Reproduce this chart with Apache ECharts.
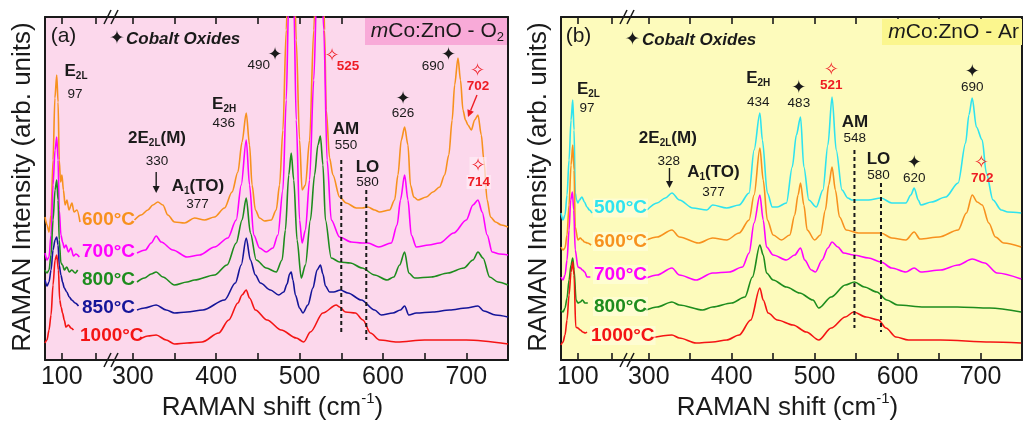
<!DOCTYPE html>
<html>
<head>
<meta charset="utf-8">
<title>Raman spectra of mCo:ZnO</title>
<script src="https://cdn.jsdelivr.net/npm/echarts@6.0.0/dist/echarts.min.js"></script>
<style>
html,body{margin:0;padding:0;background:#fff;}
#chart{width:1024px;height:426px;}
</style>
</head>
<body>
<div id="chart"></div>
<script>
// Raman shift (cm-1) vs intensity (arb. units); traces are vertically offset per annealing temperature.
// Each panel has a short low-shift segment (E2L mode) and a main segment, separated by an axis break.

// ---- axes ----
const lowRange = [90, 130];
const mainRange = [275, 750];
const lowTicks = [100, 120];
const lowLabels = [100];
const mainTicks = [300, 350, 400, 450, 500, 550, 600, 650, 700, 750];
const mainLabels = [300, 400, 500, 600, 700];
const yRange = [0, 343];

// ---- (a) mCo:ZnO annealed in O2 ----
const o2Temps = ['600°C', '700°C', '800°C', '850°C', '1000°C'];

const o2_600_lo = [[90,143],[91.2,135],[92.4,128],[93.6,145],[94.8,200],[95.9,262],[97,285],[97.8,258],[98.5,200],[99.3,178],[100.1,185],[101,170],[102,155],[103.1,160],[104.3,150],[106.1,157],[107.3,148],[109.1,150],[110.9,138]];
const o2_600_hi = [[302,140],[310,145],[318,150],[324,155],[330,158],[336,155],[342,145],[350,138],[362,137],[374,142],[386,140],[398,143],[410,152],[419,168],[426,188],[431,218],[436,247],[440,215],[443,175],[447,150],[452,142],[458,139],[466,140],[472,150],[476,175],[480,230],[484,330],[487,420],[490,470],[493,420],[496,320],[500,220],[503,170],[507,175],[512,220],[517,330],[521,430],[525,480],[528,420],[530,330],[532,250],[536,202],[540,185],[548,163],[556,157],[568,152],[575,152],[582,153],[590,150],[596,148],[608,150],[614,160],[618,185],[622,220],[626,233],[630,215],[633,175],[637,163],[642,160],[652,163],[660,168],[668,173],[674,185],[679,205],[683,240],[686,275],[690,302],[693,280],[696,250],[699,240],[702,235],[706,230],[710,240],[714,245],[718,225],[721,200],[725,160],[729,143],[735,138],[742,135],[750,133]];

const o2_700_lo = [[90,107],[91.2,100],[92.4,103],[93.6,125],[94.8,175],[96,210],[97,223],[97.8,200],[98.5,150],[99.5,125],[100.5,118],[101.5,112],[102.5,115],[104,108],[105.5,112],[107,104],[108.5,106],[110.5,103]];
const o2_700_hi = [[305,107],[315,110],[322,117],[328,124],[334,118],[348,110],[365,103],[380,105],[398,113],[414,122],[424,140],[430,175],[436,220],[440,175],[445,125],[452,112],[460,108],[468,112],[474,125],[480,170],[484,260],[487,360],[490,420],[493,360],[496,240],[500,140],[503,117],[507,130],[512,180],[517,280],[521,380],[525,420],[529,330],[533,200],[538,140],[548,123],[562,118],[575,117],[582,117],[595,113],[610,117],[617,135],[621,160],[626,185],[630,160],[634,125],[640,113],[655,115],[668,117],[685,127],[700,140],[708,155],[714,160],[719,148],[725,125],[731,108],[740,106],[750,105]];

const o2_800_lo = [[90,90],[91.2,87],[92.4,90],[93.6,105],[94.8,140],[96,170],[97,180],[97.8,160],[98.5,120],[99.5,97],[100.5,95],[101.5,90],[103,93],[104.5,88],[106,90],[108,87],[109.5,90]];
const o2_800_hi = [[305,78],[314,82],[322,86],[328,88],[336,83],[350,75],[365,78],[374,80],[398,85],[413,95],[424,117],[431,140],[436,162],[441,127],[448,100],[460,92],[472,88],[479,100],[483,130],[487,185],[490,207],[493,180],[497,120],[502,82],[507,95],[513,140],[518,185],[522,215],[525,224],[528,195],[531,140],[538,102],[548,98],[561,97],[575,92],[590,85],[605,80],[613,83],[620,95],[626,108],[631,87],[638,82],[658,83],[678,87],[697,92],[708,100],[714,108],[720,102],[728,83],[738,78],[750,75]];

const o2_850_lo = [[90,80],[91.2,74],[92.4,78],[93.6,90],[94.8,110],[96,120],[97,123],[97.8,115],[98.5,95],[99.5,85],[100.5,78],[101.5,72],[103,68],[104.5,63],[106,60],[108,57],[110,54]];
const o2_850_hi = [[305,50],[314,52],[328,55],[340,50],[350,47],[365,48],[384,50],[410,60],[423,77],[430,95],[436,122],[441,100],[447,85],[453,77],[465,70],[475,65],[481,68],[485,76],[488,86],[490,88],[492,80],[495,65],[500,52],[504,47],[510,55],[516,72],[521,90],[525,95],[528,86],[531,74],[536,68],[541,68],[549,70],[558,67],[574,60],[590,50],[598,45],[612,47],[621,50],[626,54],[631,45],[640,47],[660,48],[680,50],[700,52],[714,54],[721,49],[735,45],[750,43]];

const o2_1000_lo = [[90,17],[91.2,20],[92.4,30],[93.6,45],[94.8,75],[96,100],[97,105],[98,90],[98.8,60],[99.6,53],[100.5,47],[101.5,40],[102.5,33],[104,35],[105.5,32],[107,30]];
const o2_1000_hi = [[311,22],[318,24],[328,25],[340,20],[350,16],[365,17],[383,18],[403,27],[415,40],[426,57],[431,65],[436,70],[440,62],[447,50],[461,40],[478,30],[496,22],[505,18],[513,28],[528,47],[544,55],[548,53],[555,48],[567,47],[576,40],[585,27],[596,20],[617,18],[650,20],[700,20],[750,16]];

// ---- (b) mCo:ZnO annealed in Ar ----
const arTemps = ['500°C', '600°C', '700°C', '800°C', '1000°C'];

const ar_500_lo = [[90,147],[91.2,140],[92.4,145],[93.6,165],[94.8,200],[96,240],[97,260],[97.8,230],[98.5,167],[99.3,160],[100.1,157],[101,160],[102.5,163],[104,158],[105.5,153],[107,150],[108.5,147]];
const ar_500_hi = [[298,150],[310,157],[320,162],[328,167],[337,160],[353,152],[370,150],[377,155],[394,152],[409,155],[421,167],[427,210],[434,247],[437,220],[443,167],[449,153],[455,153],[466,157],[473,193],[478,225],[483,243],[487,193],[493,160],[502,153],[510,170],[516,215],[521,263],[526,210],[533,170],[540,162],[545,160],[565,160],[580,162],[593,157],[610,157],[616,165],[620,172],[625,160],[628,155],[641,158],[658,163],[673,177],[682,217],[686,245],[690,262],[695,233],[702,220],[707,187],[715,160],[725,150],[733,148],[749,147]];

const ar_600_lo = [[90,113],[91.2,110],[92.4,112],[93.6,125],[94.8,155],[96,195],[97,215],[97.8,190],[98.5,133],[100.1,120],[101.5,122],[102.8,120],[104,118],[105.8,117],[108,115]];
const ar_600_hi = [[297,120],[310,123],[328,130],[337,123],[360,117],[377,122],[394,120],[409,127],[421,140],[427,165],[434,212],[438,180],[443,140],[450,125],[460,120],[470,125],[476,145],[480,165],[483,177],[487,155],[491,130],[500,120],[507,125],[513,150],[517,175],[521,193],[525,170],[530,143],[538,130],[553,127],[580,127],[593,122],[610,120],[620,128],[627,121],[650,123],[673,130],[683,147],[690,165],[696,158],[702,155],[710,137],[718,123],[728,117],[749,113]];

const ar_700_lo = [[90,83],[91.2,80],[92.4,85],[93.6,100],[94.8,130],[95.8,160],[96.8,168],[97.6,150],[98.5,110],[100.1,93],[101.5,92],[102.8,90],[104.2,88],[105.5,83],[107.5,83]];
const ar_700_hi = [[297,82],[310,85],[328,92],[337,85],[357,80],[377,87],[397,88],[413,93],[421,107],[427,137],[434,165],[438,140],[442,113],[450,105],[466,100],[476,105],[483,112],[488,100],[496,90],[501,88],[509,100],[516,112],[521,118],[528,113],[535,107],[547,105],[565,102],[580,98],[593,92],[610,88],[620,92],[628,88],[652,90],[673,95],[690,101],[705,97],[720,87],[749,81]];

const ar_800_lo = [[90,50],[91.2,48],[92.4,52],[93.6,62],[94.8,80],[96,95],[97,102],[97.8,90],[99,60],[100.1,57],[101.5,58],[102.8,60],[104.3,57],[106,57]];
const ar_800_hi = [[297,50],[310,53],[328,58],[337,55],[365,50],[377,53],[400,57],[416,63],[425,83],[434,115],[438,105],[442,87],[450,80],[466,73],[482,67],[498,60],[505,52],[520,63],[537,75],[548,78],[560,73],[575,68],[587,60],[600,55],[632,53],[672,53],[711,52],[749,48]];

const ar_1000_lo = [[90,15],[91.2,18],[92.4,25],[93.6,40],[94.8,65],[96,88],[97,98],[97.8,85],[98.8,33],[100.1,32],[101.5,30],[103,28],[104.5,27],[105.5,28]];
const ar_1000_hi = [[302,22],[328,25],[337,22],[357,17],[377,18],[394,20],[409,25],[423,40],[434,72],[438,60],[444,47],[455,40],[474,35],[490,28],[505,20],[520,32],[537,43],[547,48],[562,43],[577,40],[586,32],[598,23],[613,20],[652,20],[712,18],[749,17]];

// ---- styling ----
const FONT = "'Liberation Sans', Arial, Helvetica, sans-serif";
const SYM = "'DejaVu Sans', sans-serif";
const INK = '#1a1a1a';
const RED_TXT = '#ee1c24';
const COL = {orange:'#f7911e', magenta:'#ff00ff', green:'#1d8c1d', navy:'#151599', red:'#f41414', cyan:'#2fe3ef'};

const PANELS = [
  {x0:45, xs:112, x1:508, bg:'#fcd8ec', boxBg:'#f8aad8',
   traces:[
     {lo:o2_600_lo, hi:o2_600_hi, color:COL.orange},
     {lo:o2_700_lo, hi:o2_700_hi, color:COL.magenta},
     {lo:o2_800_lo, hi:o2_800_hi, color:COL.green},
     {lo:o2_850_lo, hi:o2_850_hi, color:COL.navy},
     {lo:o2_1000_lo, hi:o2_1000_hi, color:COL.red}],
   temps:o2Temps, tempX:[82,82,82,82,80], tempY:[220,252,280,307.5,335.5]},
  {x0:561, xs:628, x1:1022, bg:'#fdfbbc', boxBg:'#fbf68e',
   traces:[
     {lo:ar_500_lo, hi:ar_500_hi, color:COL.cyan},
     {lo:ar_600_lo, hi:ar_600_hi, color:COL.orange},
     {lo:ar_700_lo, hi:ar_700_hi, color:COL.magenta},
     {lo:ar_800_lo, hi:ar_800_hi, color:COL.green},
     {lo:ar_1000_lo, hi:ar_1000_hi, color:COL.red}],
   temps:arTemps, tempX:[593,593,593,593,590], tempY:[208,241.5,274.5,306.5,335.5]}
];
const TOP = 17, BOT = 360;

// ---- build option ----
const grids = [], xAxes = [], yAxes = [], series = [];

function xAxis(gi, range, ticks, labels, pos) {
  return {
    type:'value', gridIndex:gi, position:pos, min:range[0], max:range[1],
    axisLine:{show:true, onZero:false, lineStyle:{color:INK, width:2}},
    axisTick:{show:true, inside:true, length:7, customValues:ticks, lineStyle:{color:INK, width:1.6}},
    axisLabel:{show:pos === 'bottom', customValues:labels, margin:5, color:INK, fontSize:25, fontFamily:FONT},
    splitLine:{show:false}, minorTick:{show:false}, splitArea:{show:false}
  };
}
function yAxis(gi, pos) {
  return {
    type:'value', gridIndex:gi, position:pos, min:yRange[0], max:yRange[1],
    axisLine:{show:true, onZero:false, lineStyle:{color:INK, width:2}},
    axisTick:{show:false}, axisLabel:{show:false}, splitLine:{show:false}
  };
}
function trace(data, color, xi, yi) {
  return {
    type:'line', data, xAxisIndex:xi, yAxisIndex:yi, showSymbol:false, symbol:'none',
    smooth:0.3, smoothMonotone:'x', clip:true, silent:true, z:3,
    lineStyle:{color, width:1.6}, itemStyle:{color}, emphasis:{disabled:true}
  };
}

PANELS.forEach((p, pi) => {
  const gLo = pi * 2, gHi = pi * 2 + 1;
  const common = {top:TOP, height:BOT - TOP, show:true, backgroundColor:p.bg, borderWidth:0, containLabel:false, outerBoundsMode:'none'};
  grids.push(Object.assign({left:p.x0, width:p.xs - p.x0}, common));
  grids.push(Object.assign({left:p.xs, width:p.x1 - p.xs}, common));
  xAxes.push(xAxis(gLo, lowRange, lowTicks, lowLabels, 'bottom'));
  xAxes.push(xAxis(gLo, lowRange, lowTicks, lowLabels, 'top'));
  xAxes.push(xAxis(gHi, mainRange, mainTicks, mainLabels, 'bottom'));
  xAxes.push(xAxis(gHi, mainRange, mainTicks, mainLabels, 'top'));
  yAxes.push(yAxis(gLo, 'left'));
  yAxes.push(yAxis(gHi, 'right'));
  p.traces.forEach(t => {
    series.push(trace(t.lo, t.color, pi * 4, gLo));
    series.push(trace(t.hi, t.color, pi * 4 + 2, gHi));
  });
});

const chart = echarts.init(document.getElementById('chart'), null, {renderer:'canvas'});
chart.setOption({
  animation:false, backgroundColor:'#ffffff',
  grid:grids, xAxis:xAxes, yAxis:yAxes, series
});

// ---- annotations ----
const ctx2d = document.createElement('canvas').getContext('2d');
function measure(t, size, weight, style, fam) {
  ctx2d.font = `${style || 'normal'} ${weight || 'normal'} ${size}px ${fam || FONT}`;
  return ctx2d.measureText(t).width;
}
function textEl(t, x, y, o) {
  o = o || {};
  const align = o.align || 'center', va = o.va || 'middle';
  const st = {text:t, fill:o.color || INK, fontSize:o.size || 14, fontWeight:o.weight || 'normal',
    fontStyle:o.style || 'normal', fontFamily:o.fam || FONT,
    align, verticalAlign:va, textAlign:align, textVerticalAlign:va};
  if (o.bg) { st.backgroundColor = o.bg; st.padding = o.pad || [1, 2]; }
  return {type:'text', z:20, x, y, rotation:o.rot || 0, silent:true, style:st};
}
function runs(list, x, y, align) {
  const w = list.map(r => measure(r.t, r.size, r.weight, r.style, r.fam));
  const total = w.reduce((a, b) => a + b, 0);
  let cx = align === 'left' ? x : align === 'right' ? x - total : x - total / 2;
  return list.map((r, i) => {
    const e = textEl(r.t, cx, y + (r.dy || 0), Object.assign({}, r, {align:'left'}));
    cx += w[i];
    return e;
  });
}

const G = [];
const toPx = (pi, x, y) => {
  const lo = x < 200;
  return chart.convertToPixel({xAxisIndex:pi * 4 + (lo ? 0 : 2), yAxisIndex:pi * 2 + (lo ? 0 : 1)}, [x, y]);
};
const label = (pi, t, x, y, o) => { const q = toPx(pi, x, y); G.push(textEl(t, q[0], q[1], o)); };
const richLabel = (pi, list, x, y) => { const q = toPx(pi, x, y); G.push(...runs(list, q[0], q[1], 'center')); };
const num = (pi, t, x, y, o) => label(pi, t, x, y, Object.assign({size:13.5}, o || {}));
const redNum = (pi, t, x, y, o) => label(pi, t, x, y, Object.assign({size:13.5, weight:'bold', color:RED_TXT}, o || {}));
const star = (pi, x, y) => label(pi, '\u2726', x, y, {size:18, fam:SYM});
const hollow = (pi, x, y, o) => label(pi, '\u2727', x, y, Object.assign({size:18, fam:SYM, color:RED_TXT}, o || {}));
const bold = (pi, t, x, y) => label(pi, t, x, y, {size:17, weight:'bold'});
const sub = (main, s) => [{t:main, size:17, weight:'bold'}, {t:s, size:10, weight:'bold', dy:5}];
function vdash(pi, x, y1, y2) {
  const a = toPx(pi, x, y1), b = toPx(pi, x, y2);
  G.push({type:'line', z:15, silent:true, shape:{x1:a[0], y1:a[1], x2:b[0], y2:b[1]}, style:{stroke:INK, lineWidth:2, lineDash:[4, 3]}});
}
function arrow(pi, x1, y1, x2, y2, color) {
  const a = toPx(pi, x1, y1), b = toPx(pi, x2, y2);
  const dx = b[0] - a[0], dy = b[1] - a[1], len = Math.hypot(dx, dy), ux = dx / len, uy = dy / len;
  const hl = 7, hw = 3.5, base = [b[0] - ux * hl, b[1] - uy * hl];
  G.push({type:'line', z:15, silent:true, shape:{x1:a[0], y1:a[1], x2:base[0], y2:base[1]}, style:{stroke:color, lineWidth:1.4}});
  G.push({type:'polygon', z:15, silent:true, shape:{points:[b, [base[0] - uy * hw, base[1] + ux * hw], [base[0] + uy * hw, base[1] - ux * hw]]}, style:{fill:color}});
}
function breakMark(bx, by) {
  [[-8, 7, -1, -7], [-1, 7, 6, -7]].forEach(s => G.push({type:'line', z:21, silent:true,
    shape:{x1:bx + s[0], y1:by + s[1], x2:bx + s[2], y2:by + s[3]}, style:{stroke:INK, lineWidth:1.5}}));
}

// shared frame furniture for both panels
PANELS.forEach((p, pi) => {
  breakMark(p.xs, BOT); breakMark(p.xs, TOP);
  const cx = (p.x0 + p.x1) / 2;
  G.push(...runs([{t:'RAMAN shift (cm', size:26}, {t:'-1', size:15, dy:-9}, {t:')', size:26}], cx - 4, 408, 'center'));
  G.push(textEl('RAMAN Intensity (arb. units)', p.x0 - 22, 187, {size:26, rot:Math.PI / 2}));
  p.temps.forEach((t, i) => G.push(textEl(t, p.tempX[i], p.tempY[i],
    {size:19, weight:'bold', color:p.traces[i].color, align:'left', bg:pi === 1 ? 'rgba(255,255,228,0.55)' : null, pad:[0, 1]})));
});

// (a) O2 panel
G.push(textEl('(a)', 63.5, 36, {size:21}));
G.push(textEl('\u2726', 117, 39, {size:19, fam:SYM}));
G.push(textEl('Cobalt Oxides', 126, 39, {size:17, weight:'bold', style:'italic', align:'left'}));
G.push({type:'rect', z:10, silent:true, shape:{x:365, y:18, width:142, height:27}, style:{fill:PANELS[0].boxBg}});
G.push(...runs([{t:'m', size:21, style:'italic'}, {t:'Co:ZnO - O', size:21}, {t:'2', size:13, dy:6}], 504, 31, 'right'));

richLabel(0, sub('E', '2L'), 108.5, 289);
num(0, '97', 107.9, 266);
richLabel(0, sub('E', '2H'), 409.5, 255.5);
num(0, '436', 409, 236.5);
richLabel(0, [{t:'2E', size:17, weight:'bold'}, {t:'2L', size:10, weight:'bold', dy:5}, {t:'(M)', size:17, weight:'bold'}], 329, 222);
num(0, '330', 329, 199);
arrow(0, 328, 188, 328, 167, INK);
richLabel(0, [{t:'A', size:17, weight:'bold'}, {t:'1', size:10, weight:'bold', dy:5}, {t:'(TO)', size:17, weight:'bold'}], 378, 174);
num(0, '377', 377.5, 156);
num(0, '490', 451, 294.5); star(0, 470.5, 305);
hollow(0, 539, 303.5); redNum(0, '525', 558, 293.5);
bold(0, 'AM', 555.7, 231); num(0, '550', 555.7, 215);
bold(0, 'LO', 581.5, 192.5); num(0, '580', 581.5, 178);
star(0, 624, 261); num(0, '626', 624, 246.5);
num(0, '690', 660, 293.5); star(0, 678.6, 305);
hollow(0, 713.4, 289); redNum(0, '702', 714, 274);
arrow(0, 712.8, 265, 702, 243, RED_TXT);
hollow(0, 714, 194, {bg:'rgba(255,238,246,0.7)', pad:[0, 1]}); redNum(0, '714', 715, 178, {bg:'rgba(255,238,246,0.7)', pad:[0, 1]});
vdash(0, 550, 200, 28);
vdash(0, 580, 170, 20);

// (b) Ar panel
G.push(textEl('(b)', 578.5, 36.5, {size:21}));
G.push(textEl('\u2726', 632.5, 40, {size:19, fam:SYM}));
G.push(textEl('Cobalt Oxides', 642, 40, {size:17, weight:'bold', style:'italic', align:'left'}));
G.push({type:'rect', z:10, silent:true, shape:{x:882, y:19, width:140, height:26}, style:{fill:PANELS[1].boxBg}});
G.push(...runs([{t:'m', size:21, style:'italic'}, {t:'Co:ZnO - Ar', size:21}], 1019, 32, 'right'));

richLabel(1, sub('E', '2L'), 106.4, 270.5);
num(1, '97', 105.5, 252);
richLabel(1, sub('E', '2H'), 432, 281.5);
num(1, '434', 432, 258);
richLabel(1, [{t:'2E', size:17, weight:'bold'}, {t:'2L', size:10, weight:'bold', dy:5}, {t:'(M)', size:17, weight:'bold'}], 323, 222);
num(1, '328', 324, 199);
arrow(1, 325, 192, 325, 172, INK);
richLabel(1, [{t:'A', size:17, weight:'bold'}, {t:'1', size:10, weight:'bold', dy:5}, {t:'(TO)', size:17, weight:'bold'}], 378, 188);
num(1, '377', 378, 168);
star(1, 481, 272); num(1, '483', 481, 257);
hollow(1, 520, 290); redNum(1, '521', 520, 275);
bold(1, 'AM', 548.5, 238); num(1, '548', 548.5, 222);
bold(1, 'LO', 577, 201); num(1, '580', 577, 185);
star(1, 620, 197); num(1, '620', 620, 182);
star(1, 690, 288); num(1, '690', 690, 273);
hollow(1, 701, 197); redNum(1, '702', 702, 182);
vdash(1, 548, 210, 32);
vdash(1, 580, 177, 28);

chart.setOption({graphic:{elements:G}});
</script>
</body>
</html>
